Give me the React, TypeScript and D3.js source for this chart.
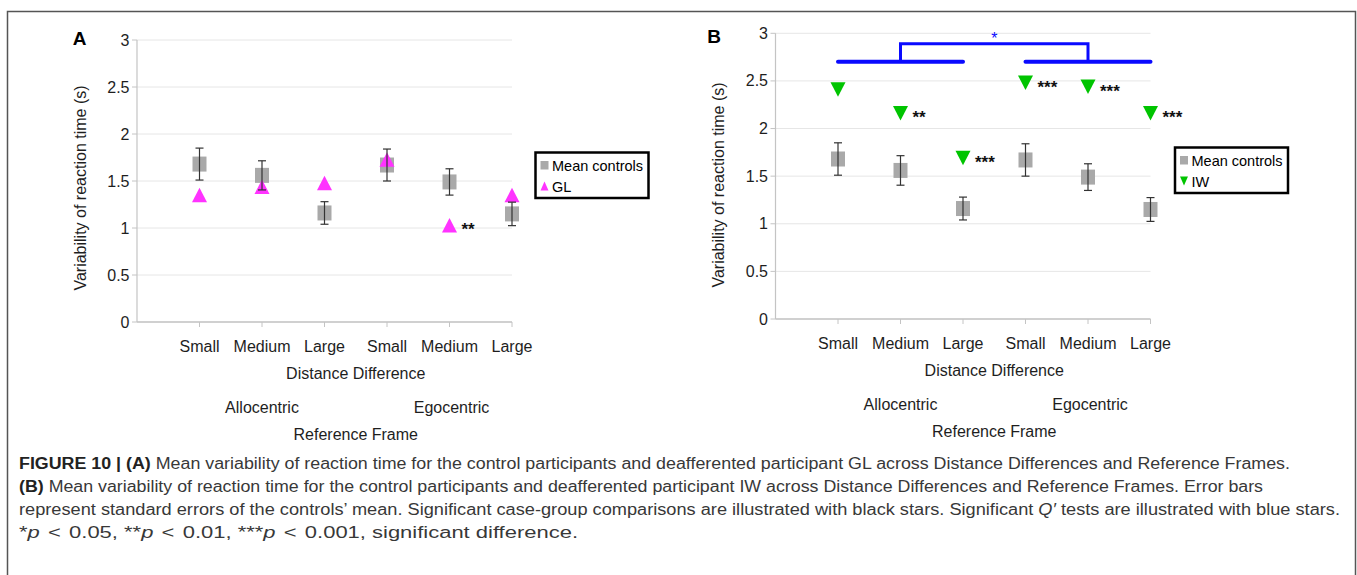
import React from "react";
import * as d3 from "d3";

// ---------- data ----------
const categories = ["Small", "Medium", "Large", "Small", "Medium", "Large"];
const frames = ["Allocentric", "Egocentric"];
const yTicks = [0, 0.5, 1, 1.5, 2, 2.5, 3];
const controlMean = [1.68, 1.56, 1.16, 1.67, 1.49, 1.15];
const controlSE = [0.17, 0.155, 0.12, 0.17, 0.14, 0.125];
const glValues = [1.35, 1.44, 1.48, 1.73, 1.03, 1.35];
const glStars = ["", "", "", "", "**", ""];
const iwValues = [2.41, 2.16, 1.69, 2.48, 2.44, 2.16];
const iwStars = ["", "**", "***", "***", "***", "***"];
const bracketLevel = 2.7;
const bracketTop = 2.89;
const bracketStar = "*";
const pLevels = [
  { stars: "*", p: "0.05" },
  { stars: "**", p: "0.01" },
  { stars: "***", p: "0.001" },
];

const FONT = "'Liberation Sans', Arial, Helvetica, sans-serif";
const TXT = "#1e1e1e";

type PanelProps = {
  letter: string;
  letterX: number;
  letterY: number;
  axisX: number;
  yBottom: number;
  yTop: number;
  caseName: string;
  caseValues: number[];
  caseStars: string[];
  caseColor: string;
  down: boolean;
  legendX: number;
  legendY: number;
  bracket: boolean;
};

function tri(cx: number, cy: number, w: number, h: number, down: boolean) {
  const s = down ? -1 : 1;
  return `M${cx - w / 2},${cy + (s * h) / 2}L${cx + w / 2},${cy + (s * h) / 2}L${cx},${cy - (s * h) / 2}Z`;
}

function Panel(p: PanelProps) {
  const step = 62.5;
  const x = d3.scaleLinear().domain([0, categories.length]).range([p.axisX, p.axisX + step * categories.length]);
  const y = d3.scaleLinear().domain([0, 3]).range([p.yBottom, p.yTop]);
  const cx = (i: number) => x(i + 1);
  const xEnd = x(categories.length);
  const midX = (cx(0) + cx(categories.length - 1)) / 2;
  return (
    <g fontFamily={FONT}>
      <text x={p.letterX} y={p.letterY} fontSize={19} fontWeight="bold" textAnchor="middle" fill="#000">
        {p.letter}
      </text>
      {/* gridlines */}
      {yTicks.map((t) => (
        <line key={"g" + t} x1={p.axisX} x2={xEnd} y1={y(t)} y2={y(t)} stroke="#e6e6e6" strokeWidth={1} />
      ))}
      {/* y axis */}
      <line x1={p.axisX} x2={p.axisX} y1={y(3)} y2={y(0)} stroke="#c4c4c4" strokeWidth={1.2} />
      {yTicks.map((t) => (
        <g key={"t" + t}>
          <line x1={p.axisX - 5} x2={p.axisX} y1={y(t)} y2={y(t)} stroke="#c4c4c4" strokeWidth={1} />
          <text x={p.axisX - 7.5} y={y(t) + 5.5} fontSize={16} textAnchor="end" fill={TXT}>
            {String(t)}
          </text>
        </g>
      ))}
      {/* x axis */}
      <line x1={p.axisX} x2={xEnd} y1={y(0)} y2={y(0)} stroke="#c4c4c4" strokeWidth={1.5} />
      {categories.map((c, i) => (
        <g key={"c" + i}>
          <line x1={cx(i)} x2={cx(i)} y1={y(0)} y2={y(0) + 5} stroke="#c4c4c4" strokeWidth={1} />
          <text x={cx(i)} y={y(0) + 29.5} fontSize={16} textAnchor="middle" fill={TXT}>
            {c}
          </text>
        </g>
      ))}
      <text x={midX} y={y(0) + 57} fontSize={16} textAnchor="middle" fill={TXT}>
        Distance Difference
      </text>
      {frames.map((f, k) => (
        <text key={f} x={cx(1 + k * 3) + k * 2} y={y(0) + 91} fontSize={16} textAnchor="middle" fill={TXT}>
          {f}
        </text>
      ))}
      <text x={midX} y={y(0) + 117.7} fontSize={16} textAnchor="middle" fill={TXT}>
        Reference Frame
      </text>
      <text
        transform={`translate(${p.axisX - 51.5},${y(0) - 134}) rotate(-90)`}
        fontSize={16}
        textAnchor="middle"
        fill={TXT}
      >
        Variability of reaction time (s)
      </text>

      {/* bracket */}
      {p.bracket && (
        <g stroke="#0a0aff" fill="none" strokeLinecap="round">
          <line x1={cx(0)} x2={cx(2)} y1={y(bracketLevel)} y2={y(bracketLevel)} strokeWidth={4} />
          <line x1={cx(3)} x2={cx(5)} y1={y(bracketLevel)} y2={y(bracketLevel)} strokeWidth={4} />
          <path
            d={`M${cx(1)},${y(bracketLevel)}V${y(bracketTop)}H${cx(4)}V${y(bracketLevel)}`}
            strokeWidth={3}
            strokeLinecap="butt"
          />
          <text
            x={(cx(1) + cx(4)) / 2}
            y={y(bracketTop)}
            fontSize={16}
            textAnchor="middle"
            fill="#0a0aff"
            stroke="none"
          >
            {bracketStar}
          </text>
        </g>
      )}

      {/* controls squares */}
      {controlMean.map((m, i) => (
        <rect key={"s" + i} x={cx(i) - 7} y={y(m) - 7.5} width={14} height={15} fill="#a9a9a9" />
      ))}
      {/* case markers */}
      {p.caseValues.map((v, i) => (
        <path key={"m" + i} d={tri(cx(i), y(v), 15, 14.5, p.down)} fill={p.caseColor} />
      ))}
      {/* error bars */}
      {controlMean.map((m, i) => (
        <g key={"e" + i} stroke="#333" strokeWidth={1.2}>
          <line x1={cx(i)} x2={cx(i)} y1={y(m + controlSE[i])} y2={y(m - controlSE[i])} />
          <line x1={cx(i) - 4} x2={cx(i) + 4} y1={y(m + controlSE[i])} y2={y(m + controlSE[i])} />
          <line x1={cx(i) - 4} x2={cx(i) + 4} y1={y(m - controlSE[i])} y2={y(m - controlSE[i])} />
        </g>
      ))}
      {/* stars */}
      {p.caseStars.map((s, i) =>
        s ? (
          <text key={"st" + i} x={cx(i) + 12} y={y(p.caseValues[i]) + 10} fontSize={17} fontWeight="bold" fill="#111">
            {s}
          </text>
        ) : null
      )}

      {/* legend */}
      <g transform={`translate(${p.legendX},${p.legendY})`}>
        <rect x={0} y={0} width={113} height={45.5} fill="#fff" stroke="#000" strokeWidth={2.5} />
        <rect x={5} y={8.5} width={8} height={8.5} fill="#a9a9a9" />
        <text x={16.5} y={18} fontSize={14.5} fill="#000">
          Mean controls
        </text>
        <path d={tri(9, 33.5, 8, 9, p.down)} fill={p.caseColor} />
        <text x={16.5} y={39} fontSize={14.5} fill="#000">
          {p.caseName}
        </text>
      </g>
    </g>
  );
}

export default function App() {
  return (
    <svg
      width={1357}
      height={575}
      style={{ position: "absolute", left: 0, top: 0, background: "#fff" }}
      xmlns="http://www.w3.org/2000/svg"
    >
      <rect x={0} y={0} width={1357} height={575} fill="#fff" />
      {/* frame */}
      <path d="M7.5,575V11.5H1355.5V575" fill="none" stroke="#555" strokeWidth={1.5} />

      <Panel
        letter="A"
        letterX={79.5}
        letterY={44.5}
        axisX={137}
        yBottom={322}
        yTop={40}
        caseName="GL"
        caseValues={glValues}
        caseStars={glStars}
        caseColor="#ff33ff"
        down={false}
        legendX={535.5}
        legendY={152.5}
        bracket={false}
      />
      <Panel
        letter="B"
        letterX={714}
        letterY={43}
        axisX={775.5}
        yBottom={319}
        yTop={33.3}
        caseName="IW"
        caseValues={iwValues}
        caseStars={iwStars}
        caseColor="#00c400"
        down={true}
        legendX={1175}
        legendY={147.5}
        bracket={true}
      />

      {/* caption */}
      <g fontFamily={FONT} fontSize={16} fill="#383838">
        <text x={19} y={469} textLength={1271} lengthAdjust="spacingAndGlyphs">
          <tspan fontWeight="bold" fill="#222">FIGURE 10 | (A)</tspan> Mean variability of reaction time for the control
          participants and deafferented participant GL across Distance Differences and Reference Frames.
        </text>
        <text x={19} y={492} textLength={1244} lengthAdjust="spacingAndGlyphs">
          <tspan fontWeight="bold" fill="#222">(B)</tspan> Mean variability of reaction time for the control participants
          and deafferented participant IW across Distance Differences and Reference Frames. Error bars
        </text>
        <text x={19} y={515} textLength={1321} lengthAdjust="spacingAndGlyphs">
          represent standard errors of the controls’ mean. Significant case-group comparisons are illustrated with black
          stars. Significant <tspan fontStyle="italic">Q′</tspan> tests are illustrated with blue stars.
        </text>
        <text x={19} y={538} textLength={559} lengthAdjust="spacingAndGlyphs">
          {pLevels.map((l, i) => (
            <tspan key={i}>
              {l.stars}
              <tspan fontStyle="italic">p</tspan>
              <tspan dx={6}>&lt;</tspan>
              <tspan dx={6}>{l.p},</tspan>{" "}
            </tspan>
          ))}
          significant difference.
        </text>
      </g>
    </svg>
  );
}
